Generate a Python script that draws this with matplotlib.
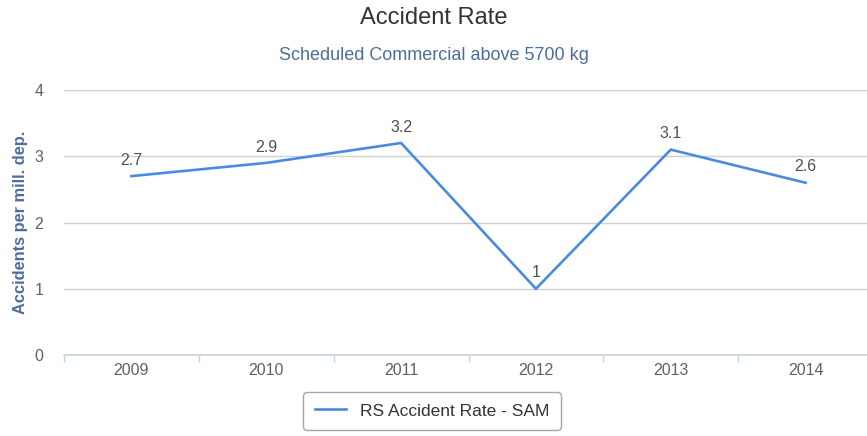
import matplotlib
matplotlib.use("Agg")
import matplotlib.pyplot as plt

# Chart data
years = ["2009", "2010", "2011", "2012", "2013", "2014"]
rates = [2.7, 2.9, 3.2, 1, 3.1, 2.6]
series_name = "RS Accident Rate - SAM"

plt.rcParams['font.family'] = ['Liberation Sans', 'DejaVu Sans']

W, H = 867, 436
fig = plt.figure(figsize=(W / 100, H / 100), dpi=100)
ax = fig.add_axes([64 / W, 1 - 355 / H, 809 / W, 265 / H])

x = list(range(len(years)))
line, = ax.plot(x, rates, color="#4a8ae0", linewidth=1.9, label=series_name,
                solid_joinstyle="miter", clip_on=False)

# Value labels above each point
for xi, v in zip(x, rates):
    label = f"{v:g}"
    ax.annotate(label, (xi, v), xytext=(0, 6), textcoords="offset points",
                ha="center", va="bottom", fontsize=11.5, color="#505050")

ax.set_xlim(-0.5, len(years) - 0.5)
ax.set_ylim(0, 4)
ax.set_yticks([0, 1, 2, 3, 4])
ax.set_xticks(x)
ax.set_xticklabels(years)
ax.set_xticks([i - 0.5 for i in range(len(years) + 1)], minor=True)

ax.grid(axis="y", color="#d0d0d0", linewidth=1)
ax.set_axisbelow(True)
for side in ("top", "right", "left"):
    ax.spines[side].set_visible(False)
ax.spines["bottom"].set_color("#c8d4e3")
ax.spines["bottom"].set_linewidth(1.2)

ax.tick_params(axis="y", length=0, pad=15, labelsize=11.5, labelcolor="#606060")
ax.tick_params(axis="x", which="major", length=0, pad=6, labelsize=11.5, labelcolor="#606060")
ax.tick_params(axis="x", which="minor", length=5, color="#c8d4e3", width=1)

ax.set_ylabel("Accidents per mill. dep.", color="#4d6e9a", fontsize=11.8, fontweight="bold")
ax.yaxis.set_label_coords(-36 / 809, 0.5)

fig.text(0.5, 1 - 18 / H, "Accident Rate", ha="center", va="center",
         fontsize=17, color="#333333")
fig.text(0.5, 1 - 56 / H, "Scheduled Commercial above 5700 kg", ha="center", va="center",
         fontsize=13, color="#4d6e9a")

leg = fig.legend(handles=[line], loc="center", bbox_to_anchor=(432 / W, 1 - 411 / H),
                 frameon=True, fontsize=12.5, handlelength=1.8, borderpad=0.65,
                 fancybox=True, edgecolor="#909090", labelcolor="#333333")
leg.get_frame().set_linewidth(1.0)

fig.savefig("out.png", dpi=100)
